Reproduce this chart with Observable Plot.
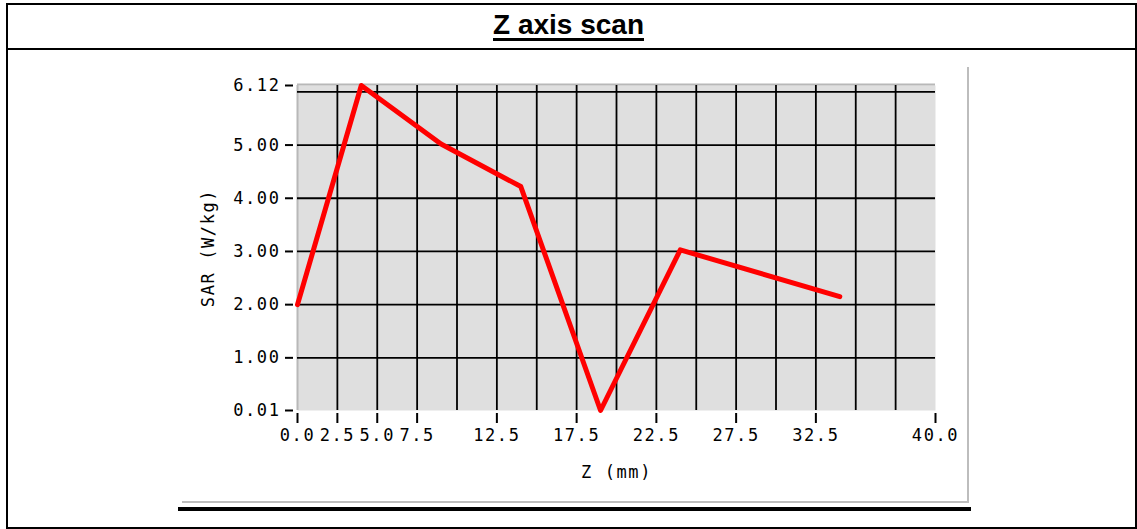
<!DOCTYPE html>
<html><head><meta charset="utf-8">
<script src="https://cdn.jsdelivr.net/npm/d3@7"></script>
<script src="https://cdn.jsdelivr.net/npm/@observablehq/plot@0.6"></script>
<style>
body{margin:0;background:#fff;}
#wrap{position:relative;width:1137px;height:529px;overflow:hidden;background:#fff;}
.ln{position:absolute;background:#000;}
.gr{position:absolute;background:#bdbdbd;}
#title{position:absolute;left:0;width:1137px;top:9px;text-align:center;font:bold 28px "Liberation Sans",Arial,sans-serif;text-decoration:underline;text-decoration-thickness:3px;text-underline-offset:4px;color:#000;}
#chart{position:absolute;left:0;top:0;}
</style></head><body>
<div id="wrap">
 <div id="chart"></div>
 <div id="title">Z axis scan</div>
 <div class="ln" style="left:6px;top:3px;width:1131px;height:2px"></div>
 <div class="ln" style="left:6px;top:48px;width:1131px;height:2px"></div>
 <div class="ln" style="left:6px;top:527px;width:1131px;height:2px"></div>
 <div class="ln" style="left:6px;top:3px;width:2px;height:526px"></div>
 <div class="ln" style="left:1135px;top:3px;width:2px;height:526px"></div>
 <div class="gr" style="left:967px;top:67px;width:2px;height:436px"></div>
 <div class="gr" style="left:182px;top:501px;width:787px;height:2px"></div>
 <div class="ln" style="left:178px;top:507px;width:793px;height:4px"></div>
</div>
<script>
const zValues = [0, 4, 9, 14, 19, 24, 34];
const sarValues = [2.00, 6.12, 5.02, 4.22, 0.01, 3.03, 2.15];
const yTicks = [0.01, 1, 2, 3, 4, 5, 6.12];
const yGrid = [1, 2, 3, 4, 5, 6];
const xTicks = [0, 2.5, 5, 7.5, 12.5, 17.5, 22.5, 27.5, 32.5, 40];
const xGrid = [2.5, 5, 7.5, 10, 12.5, 15, 17.5, 20, 22.5, 25, 27.5, 30, 32.5, 35, 37.5];
const xDomain = [0, 40];
const yDomain = [0.01, 6.12];

const data = zValues.map((z, i) => ({z, sar: sarValues[i]}));

const chart = Plot.plot({
  width: 1137,
  height: 529,
  marginLeft: 297,
  marginRight: 202,
  marginTop: 85,
  marginBottom: 119,
  x: {domain: xDomain},
  y: {domain: yDomain},
  style: {fontFamily: "'DejaVu Sans Mono', monospace", fontSize: "17px", color: "#000", background: "transparent", letterSpacing: "1.6px"},
  marks: [
    Plot.frame({fill: "#dfdfdf", stroke: null}),
    Plot.ruleY([yDomain[1]], {stroke: "#b8b8b8", strokeWidth: 2, dy: -1}),
    Plot.ruleX([xDomain[0]], {stroke: "#b8b8b8", strokeWidth: 2}),
    Plot.ruleX(xGrid, {stroke: "#000", strokeWidth: 1.8}),
    Plot.ruleY(yGrid, {stroke: "#000", strokeWidth: 1.8}),
    Plot.line(data, {x: "z", y: "sar", stroke: "#ff0000", strokeWidth: 5, strokeLinejoin: "round"}),
    Plot.axisY(yTicks, {tickFormat: d => d.toFixed(2), tickSize: 8, tickPadding: 5, dx: -4, strokeWidth: 2,
      label: "SAR (W/kg)", labelArrow: false, labelAnchor: "center", labelOffset: 96}),
    Plot.axisX(xTicks, {tickFormat: d => d.toFixed(1), tickSize: 10, tickPadding: 5, dy: 3, strokeWidth: 2,
      label: "Z (mm)", labelArrow: false, labelAnchor: "center", labelOffset: 67})
  ]
});
document.getElementById("chart").appendChild(chart);
</script>
</body></html>
